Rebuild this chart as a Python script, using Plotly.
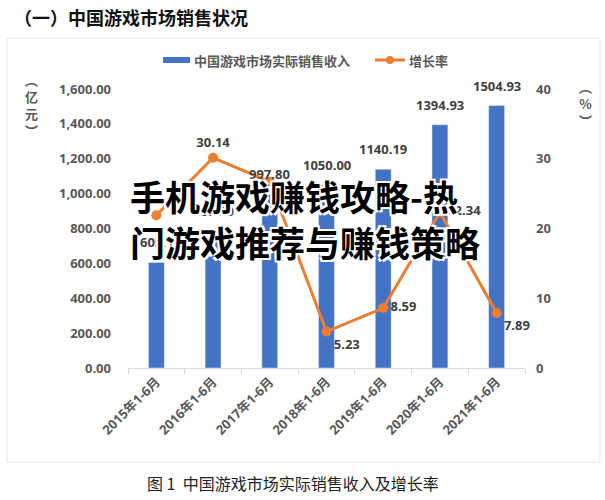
import plotly.graph_objects as go

categories = ["2015年1-6月", "2016年1-6月", "2017年1-6月", "2018年1-6月",
              "2019年1-6月", "2020年1-6月", "2021年1-6月"]
revenue = [605.1, 787.50, 997.80, 1050.00, 1140.19, 1394.93, 1504.93]
revenue_labels = ["605.1", "787.50", "997.80", "1050.00", "1140.19", "1394.93", "1504.93"]
growth = [21.9, 30.14, 26.7, 5.23, 8.59, 22.34, 7.89]
growth_labels = ["", "30.14", "", "5.23", "8.59", "22.34", "7.89"]
growth_pos = ["top center", "top center", "top center", "bottom right",
              "middle right", "middle right", "bottom right"]

BLUE = "#4472C4"
ORANGE = "#ED7D31"
GRAY = "#595959"
FONT = "Open Sans, Noto Sans CJK SC, sans-serif"

# plot area in pixels
L, R, T, B = 128, 525, 89, 368
W, H = 605, 500


def px(x):
    return (x - L) / (R - L)


def py(y):
    return (B - y) / (B - T)


fig = go.Figure()
fig.add_trace(go.Bar(
    x=categories, y=revenue, name="中国游戏市场实际销售收入",
    marker_color=BLUE, width=0.28, showlegend=False,
))
fig.add_trace(go.Scatter(
    x=categories, y=growth, name="增长率", yaxis="y2", showlegend=False,
    mode="lines+markers+text",
    line=dict(color=ORANGE, width=3),
    marker=dict(color=ORANGE, size=10),
    text=growth_labels, textposition=growth_pos, cliponaxis=False,
    textfont=dict(size=13, color="#404040", family=FONT, weight="bold"),
))

fig.update_layout(
    width=W, height=H,
    margin=dict(l=L, r=W - R, t=T, b=H - B),
    paper_bgcolor="white", plot_bgcolor="white",
    font=dict(family=FONT, color=GRAY),
    xaxis=dict(showline=True, linecolor="#d9d9d9", linewidth=1,
               ticks="outside", tickson="boundaries", ticklen=5, tickcolor="#d9d9d9",
               tickangle=-45, tickfont=dict(size=13, color=GRAY, weight="bold"),
               showgrid=False),
    yaxis=dict(range=[0, 1600], tickvals=[0, 200, 400, 600, 800, 1000, 1200, 1400, 1600],
               tickformat=",.2f", showgrid=False, zeroline=False, showline=False,
               ticklabelstandoff=16,
               tickfont=dict(size=13, color=GRAY, weight="bold")),
    yaxis2=dict(range=[0, 40], tickvals=[0, 10, 20, 30, 40], overlaying="y", side="right",
                showgrid=False, zeroline=False, showline=False, ticklabelstandoff=10,
                tickfont=dict(size=13, color=GRAY, weight="bold")),
)

shapes = [
    # card border
    dict(type="rect", x0=px(7), x1=px(600), y0=py(462), y1=py(38),
         line=dict(color="#e6e6e6", width=1), layer="below"),
    # legend: bar swatch
    dict(type="rect", x0=px(163), x1=px(190), y0=py(63), y1=py(57),
         line=dict(width=0), fillcolor=BLUE),
    # legend: line swatch
    dict(type="line", x0=px(375), x1=px(405), y0=py(60), y1=py(60),
         line=dict(color=ORANGE, width=3)),
    dict(type="circle", x0=px(386), x1=px(394), y0=py(64), y1=py(56),
         line=dict(width=0), fillcolor=ORANGE),
]
for s in shapes:
    s.update(xref="paper", yref="paper")
fig.update_layout(shapes=shapes)

annotations = []
# bar value labels
for c, v, t in zip(categories, revenue, revenue_labels):
    annotations.append(dict(text=t, x=c, y=v, xref="x", yref="y", xanchor="center",
                            yanchor="bottom", yshift=9, showarrow=False,
                            font=dict(size=13, color="#404040", family=FONT, weight="bold")))

paper_ann = [
    dict(text="（一）中国游戏市场销售状况", x=px(12), y=py(17), xanchor="left", yanchor="middle",
         font=dict(size=18, color="#111111", family="Noto Sans CJK SC", weight="bold")),
    dict(text="中国游戏市场实际销售收入", x=px(192), y=py(60), xanchor="left", yanchor="middle",
         font=dict(size=13, color=GRAY, family="Noto Sans CJK SC", weight="bold")),
    dict(text="增长率", x=px(407), y=py(60), xanchor="left", yanchor="middle",
         font=dict(size=13, color=GRAY, family="Noto Sans CJK SC", weight="bold")),
    dict(text="︵<br>亿<br>元<br>︶", x=px(31), y=py(105), xanchor="center", yanchor="middle",
         font=dict(size=13, color=GRAY, family="Noto Sans CJK SC", weight="bold")),
    dict(text="︵<br>%<br>︶", x=px(585), y=py(103), xanchor="center", yanchor="middle",
         font=dict(size=13, color=GRAY, family="Noto Sans CJK SC", weight="bold")),
    dict(text="图 1  中国游戏市场实际销售收入及增长率", x=px(145), y=py(483), xanchor="left",
         yanchor="middle", font=dict(size=16, color="#222222", family="Noto Sans CJK SC")),
    dict(text="手机游戏赚钱攻略-热<br>门游戏推荐与赚钱策略", x=px(128), y=py(218),
         xanchor="left", yanchor="middle", align="left",
         font=dict(size=35, color="#000000", family="Noto Sans CJK SC", weight="bold",
                   shadow="-2px -2px 0 #fff, 2px -2px 0 #fff, -2px 2px 0 #fff, 2px 2px 0 #fff")),
]
for a in paper_ann:
    a.update(xref="paper", yref="paper", showarrow=False)
annotations += paper_ann
fig.update_layout(annotations=annotations)

fig.write_html("out.html")
